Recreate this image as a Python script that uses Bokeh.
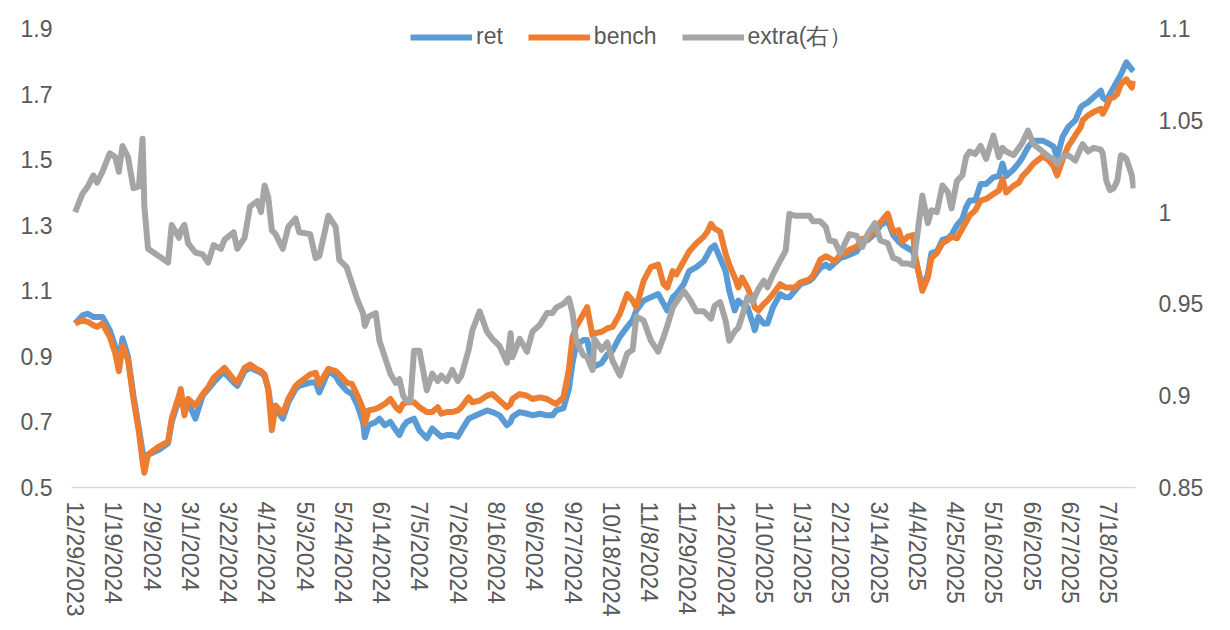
import math
from datetime import datetime
import pandas as pd
from bokeh.plotting import figure
from bokeh.models import (ColumnDataSource, Range1d, LinearAxis, FixedTicker,
                          Legend, LegendItem, CustomJSTickFormatter)
from bokeh.embed import file_html
from bokeh.resources import INLINE

# ---------------- data ----------------
dates = [
    "2023-12-29", "2024-01-02", "2024-01-05", "2024-01-08", "2024-01-10", "2024-01-13", "2024-01-17", "2024-01-20",
    "2024-01-22", "2024-01-24", "2024-01-27", "2024-01-30", "2024-02-02", "2024-02-04", "2024-02-05", "2024-02-07",
    "2024-02-13", "2024-02-18", "2024-02-20", "2024-02-24", "2024-02-25", "2024-02-27", "2024-02-29", "2024-03-04",
    "2024-03-08", "2024-03-11", "2024-03-14", "2024-03-18", "2024-03-20", "2024-03-25", "2024-03-27", "2024-03-31",
    "2024-04-03", "2024-04-07", "2024-04-09", "2024-04-11", "2024-04-13", "2024-04-15", "2024-04-17", "2024-04-21",
    "2024-04-24", "2024-04-28", "2024-04-30", "2024-05-06", "2024-05-09", "2024-05-11", "2024-05-16", "2024-05-20",
    "2024-05-22", "2024-05-26", "2024-05-29", "2024-06-01", "2024-06-04", "2024-06-05", "2024-06-07", "2024-06-11",
    "2024-06-13", "2024-06-16", "2024-06-19", "2024-06-22", "2024-06-24", "2024-06-26", "2024-06-28", "2024-06-30",
    "2024-07-02", "2024-07-05", "2024-07-09", "2024-07-12", "2024-07-15", "2024-07-17", "2024-07-20", "2024-07-23",
    "2024-07-26", "2024-07-28", "2024-08-01", "2024-08-03", "2024-08-07", "2024-08-11", "2024-08-14", "2024-08-18",
    "2024-08-22", "2024-08-24", "2024-08-25", "2024-08-29", "2024-09-02", "2024-09-05", "2024-09-09", "2024-09-13",
    "2024-09-16", "2024-09-18", "2024-09-22", "2024-09-25", "2024-09-27", "2024-09-29", "2024-10-03", "2024-10-05",
    "2024-10-08", "2024-10-09", "2024-10-13", "2024-10-16", "2024-10-19", "2024-10-23", "2024-10-27", "2024-10-30",
    "2024-11-01", "2024-11-05", "2024-11-09", "2024-11-13", "2024-11-16", "2024-11-18", "2024-11-21", "2024-11-23",
    "2024-11-27", "2024-11-30", "2024-12-04", "2024-12-08", "2024-12-10", "2024-12-12", "2024-12-14", "2024-12-17",
    "2024-12-20", "2024-12-22", "2024-12-25", "2024-12-27", "2024-12-29", "2025-01-01", "2025-01-04", "2025-01-05",
    "2025-01-07", "2025-01-10", "2025-01-12", "2025-01-15", "2025-01-19", "2025-01-22", "2025-01-24", "2025-01-27",
    "2025-01-30", "2025-02-04", "2025-02-06", "2025-02-10", "2025-02-13", "2025-02-15", "2025-02-18", "2025-02-21",
    "2025-02-24", "2025-02-26", "2025-03-02", "2025-03-05", "2025-03-08", "2025-03-12", "2025-03-15", "2025-03-19",
    "2025-03-22", "2025-03-25", "2025-03-27", "2025-03-30", "2025-04-02", "2025-04-03", "2025-04-07", "2025-04-10",
    "2025-04-12", "2025-04-15", "2025-04-18", "2025-04-21", "2025-04-23", "2025-04-26", "2025-04-29", "2025-05-01",
    "2025-05-03", "2025-05-06", "2025-05-09", "2025-05-12", "2025-05-16", "2025-05-19", "2025-05-21", "2025-05-23",
    "2025-05-27", "2025-05-30", "2025-06-01", "2025-06-04", "2025-06-07", "2025-06-12", "2025-06-15", "2025-06-18",
    "2025-06-20", "2025-06-23", "2025-06-26", "2025-06-30", "2025-07-03", "2025-07-04", "2025-07-07", "2025-07-10",
    "2025-07-14", "2025-07-15", "2025-07-17", "2025-07-19", "2025-07-21", "2025-07-23", "2025-07-25", "2025-07-27",
    "2025-07-28", "2025-07-31", "2025-08-01",
]

ret = [
    1.000, 1.025, 1.030, 1.020, 1.020, 1.020, 0.980, 0.930, 0.880, 0.955, 0.900, 0.780, 0.680, 0.610, 0.590, 0.600,
    0.615, 0.635, 0.700, 0.770, 0.780, 0.730, 0.760, 0.710, 0.780, 0.800, 0.820, 0.845, 0.850, 0.820, 0.810, 0.855,
    0.865, 0.855, 0.850, 0.840, 0.800, 0.725, 0.740, 0.710, 0.760, 0.800, 0.810, 0.820, 0.820, 0.790, 0.855, 0.840,
    0.820, 0.795, 0.785, 0.750, 0.700, 0.653, 0.690, 0.700, 0.710, 0.690, 0.700, 0.675, 0.660, 0.685, 0.700, 0.705,
    0.710, 0.674, 0.650, 0.680, 0.665, 0.655, 0.660, 0.660, 0.655, 0.674, 0.710, 0.715, 0.725, 0.735, 0.730, 0.720,
    0.690, 0.700, 0.715, 0.730, 0.725, 0.720, 0.725, 0.720, 0.720, 0.735, 0.742, 0.800, 0.880, 0.935, 0.950, 0.950,
    0.870, 0.870, 0.880, 0.905, 0.918, 0.960, 0.990, 1.010, 1.040, 1.070, 1.080, 1.090, 1.060, 1.040, 1.080, 1.090,
    1.120, 1.160, 1.172, 1.190, 1.210, 1.230, 1.238, 1.200, 1.160, 1.100, 1.040, 1.070, 1.060, 1.050, 1.000, 0.980,
    1.020, 1.000, 1.000, 1.050, 1.090, 1.080, 1.080, 1.100, 1.120, 1.130, 1.140, 1.170, 1.180, 1.170, 1.185, 1.200,
    1.205, 1.210, 1.220, 1.250, 1.255, 1.275, 1.300, 1.314, 1.270, 1.250, 1.240, 1.230, 1.220, 1.200, 1.110, 1.150,
    1.215, 1.220, 1.255, 1.260, 1.270, 1.300, 1.320, 1.355, 1.375, 1.375, 1.426, 1.426, 1.446, 1.450, 1.488, 1.450,
    1.470, 1.490, 1.507, 1.538, 1.558, 1.558, 1.550, 1.540, 1.507, 1.570, 1.599, 1.620, 1.660, 1.665, 1.675, 1.690,
    1.710, 1.690, 1.680, 1.700, 1.720, 1.740, 1.760, 1.785, 1.797, 1.775, 1.770,
]

bench = [
    1.000, 1.010, 1.005, 0.995, 0.990, 1.000, 0.960, 0.910, 0.855, 0.930, 0.890, 0.770, 0.670, 0.580, 0.545, 0.600,
    0.625, 0.640, 0.710, 0.780, 0.800, 0.720, 0.770, 0.750, 0.785, 0.805, 0.835, 0.855, 0.865, 0.830, 0.820, 0.865,
    0.875, 0.860, 0.855, 0.845, 0.800, 0.675, 0.750, 0.725, 0.770, 0.810, 0.820, 0.845, 0.850, 0.815, 0.862, 0.855,
    0.845, 0.820, 0.815, 0.780, 0.740, 0.695, 0.735, 0.740, 0.745, 0.755, 0.770, 0.745, 0.735, 0.755, 0.760, 0.760,
    0.760, 0.745, 0.730, 0.730, 0.745, 0.725, 0.730, 0.730, 0.735, 0.745, 0.775, 0.760, 0.765, 0.780, 0.785, 0.765,
    0.745, 0.755, 0.770, 0.785, 0.780, 0.770, 0.775, 0.770, 0.760, 0.755, 0.775, 0.860, 0.958, 0.990, 1.030, 1.050,
    0.963, 0.970, 0.975, 0.985, 0.990, 1.030, 1.090, 1.070, 1.050, 1.130, 1.172, 1.180, 1.120, 1.110, 1.160, 1.150,
    1.190, 1.220, 1.245, 1.265, 1.280, 1.304, 1.290, 1.280, 1.213, 1.180, 1.141, 1.110, 1.140, 1.110, 1.070, 1.050,
    1.040, 1.060, 1.070, 1.090, 1.120, 1.110, 1.110, 1.110, 1.125, 1.135, 1.146, 1.195, 1.205, 1.200, 1.190, 1.210,
    1.215, 1.225, 1.235, 1.258, 1.260, 1.290, 1.309, 1.335, 1.280, 1.285, 1.250, 1.265, 1.270, 1.210, 1.100, 1.140,
    1.200, 1.215, 1.245, 1.255, 1.265, 1.260, 1.290, 1.310, 1.330, 1.345, 1.375, 1.380, 1.395, 1.406, 1.440, 1.400,
    1.420, 1.430, 1.450, 1.467, 1.488, 1.510, 1.500, 1.480, 1.452, 1.500, 1.540, 1.575, 1.600, 1.620, 1.635, 1.645,
    1.655, 1.640, 1.660, 1.687, 1.690, 1.700, 1.730, 1.740, 1.745, 1.720, 1.740,
]

extra = [
    1.000, 1.010, 1.014, 1.020, 1.016, 1.022, 1.032, 1.030, 1.022, 1.036, 1.030, 1.013, 1.014, 1.040, 1.003, 0.980,
    0.976, 0.9725, 0.993, 0.986, 0.990, 0.993, 0.983, 0.978, 0.977, 0.9725, 0.982, 0.980, 0.985, 0.989, 0.980, 0.986,
    1.003, 1.006, 1.000, 1.0145, 1.008, 0.990, 0.988, 0.980, 0.992, 0.9965, 0.989, 0.988, 0.975, 0.976, 0.998, 0.992,
    0.974, 0.970, 0.961, 0.952, 0.945, 0.938, 0.943, 0.945, 0.930, 0.921, 0.912, 0.907, 0.909, 0.900, 0.897, 0.897,
    0.9245, 0.9245, 0.903, 0.912, 0.908, 0.911, 0.908, 0.914, 0.908, 0.911, 0.925, 0.9355, 0.946, 0.935, 0.931, 0.927,
    0.918, 0.934, 0.921, 0.931, 0.924, 0.935, 0.9385, 0.945, 0.945, 0.948, 0.950, 0.953, 0.945, 0.930, 0.922, 0.921,
    0.914, 0.931, 0.925, 0.929, 0.919, 0.911, 0.923, 0.925, 0.943, 0.941, 0.930, 0.924, 0.932, 0.938, 0.948, 0.951,
    0.957, 0.953, 0.946, 0.946, 0.944, 0.942, 0.949, 0.951, 0.941, 0.930, 0.935, 0.937, 0.943, 0.9537, 0.951, 0.954,
    0.958, 0.9627, 0.959, 0.966, 0.9736, 0.979, 0.999, 0.998, 0.998, 0.998, 0.995, 0.995, 0.992, 0.9845, 0.984, 0.9774,
    0.984, 0.988, 0.987, 0.981, 0.988, 0.994, 0.9845, 0.983, 0.975, 0.974, 0.972, 0.972, 0.971, 0.978, 1.009, 0.994,
    1.001, 1.000, 1.0145, 1.011, 1.002, 1.017, 1.020, 1.030, 1.033, 1.0316, 1.036, 1.029, 1.0417, 1.030, 1.035, 1.033,
    1.031, 1.035, 1.038, 1.0444, 1.037, 1.033, 1.0305, 1.029, 1.026, 1.030, 1.031, 1.028, 1.035, 1.037, 1.033, 1.035,
    1.034, 1.032, 1.017, 1.012, 1.013, 1.017, 1.031, 1.030, 1.029, 1.020, 1.013,
]

x_tick_labels = [
    "12/29/2023", "1/19/2024", "2/9/2024", "3/1/2024", "3/22/2024", "4/12/2024", "5/3/2024",
    "5/24/2024", "6/14/2024", "7/5/2024", "7/26/2024", "8/16/2024", "9/6/2024", "9/27/2024",
    "10/18/2024", "11/8/2024", "11/29/2024", "12/20/2024", "1/10/2025", "1/31/2025", "2/21/2025",
    "3/14/2025", "4/4/2025", "4/25/2025", "5/16/2025", "6/6/2025", "6/27/2025", "7/18/2025",
]
left_ticks = [0.5, 0.7, 0.9, 1.1, 1.3, 1.5, 1.7, 1.9]
right_ticks = [0.85, 0.9, 0.95, 1, 1.05, 1.1]
series_names = ["ret", "bench", "extra(右）"]
series_colors = ["#5B9BD5", "#ED7D31", "#A5A5A5"]

# ---------------- chart ----------------
FONT = "Liberation Sans"
TXT = "#595959"

src = ColumnDataSource(dict(date=pd.to_datetime(dates), ret=ret, bench=bench, extra=extra))

p = figure(width=1222, height=622, x_axis_type="datetime",
           x_range=Range1d(pd.Timestamp("2023-12-27"), pd.Timestamp("2025-08-02")),
           y_range=Range1d(0.5, 1.9427),
           output_backend="svg", toolbar_location=None,
           min_border_left=71, min_border_right=87, min_border_top=14, min_border_bottom=135)
p.extra_y_ranges = {"right": Range1d(0.85, 1.10763)}
p.outline_line_color = None
p.xgrid.visible = False
p.ygrid.visible = False
p.background_fill_color = "white"
p.border_fill_color = "white"

LW = 6
r1 = p.line("date", "ret", source=src, color=series_colors[0], line_width=LW, line_join="round")
r2 = p.line("date", "bench", source=src, color=series_colors[1], line_width=LW, line_join="round")
r3 = p.line("date", "extra", source=src, color=series_colors[2], line_width=LW, line_join="round",
            y_range_name="right")

# x axis
tick_ms = [float((pd.Timestamp(datetime.strptime(s, "%m/%d/%Y")) - pd.Timestamp("1970-01-01"))
                 // pd.Timedelta("1ms")) for s in x_tick_labels]
xa = p.xaxis[0]
xa.ticker = FixedTicker(ticks=tick_ms)
xa.formatter = CustomJSTickFormatter(code="const d=new Date(tick);return (d.getUTCMonth()+1)+'/'+d.getUTCDate()+'/'+d.getUTCFullYear();")
xa.major_label_overrides = {t: s for t, s in zip(tick_ms, x_tick_labels)}
xa.major_label_orientation = -math.pi / 2
xa.axis_line_color = "#D9D9D9"
xa.axis_line_width = 1.5
xa.major_tick_line_color = None
xa.minor_tick_line_color = None
xa.major_tick_out = 0
xa.major_label_standoff = 14
xa.major_label_text_font = FONT
xa.major_label_text_font_size = "23px"
xa.major_label_text_color = TXT

ya = p.yaxis[0]
ya.ticker = FixedTicker(ticks=left_ticks)
ya.formatter = CustomJSTickFormatter(code="return String(tick);")

ra = LinearAxis(y_range_name="right", ticker=FixedTicker(ticks=right_ticks),
                formatter=CustomJSTickFormatter(code="return String(tick);"))
p.add_layout(ra, "right")

for ax, st in ((ya, 19), (ra, 23)):
    ax.axis_line_color = None
    ax.major_tick_line_color = None
    ax.minor_tick_line_color = None
    ax.major_tick_out = 0
    ax.major_label_standoff = st
    ax.major_label_text_font = FONT
    ax.major_label_text_font_size = "23px"
    ax.major_label_text_color = TXT

legend = Legend(items=[LegendItem(label=series_names[0], renderers=[r1]),
                       LegendItem(label=series_names[1], renderers=[r2]),
                       LegendItem(label=series_names[2], renderers=[r3])],
                location=(339, 435), orientation="horizontal",
                glyph_width=62, glyph_height=20, label_standoff=4, spacing=25,
                padding=0, margin=0, border_line_color=None, background_fill_alpha=0,
                label_text_font=FONT, label_text_font_size="23px", label_text_color=TXT)
p.add_layout(legend)

open("out.html", "w").write(file_html(p, INLINE))
